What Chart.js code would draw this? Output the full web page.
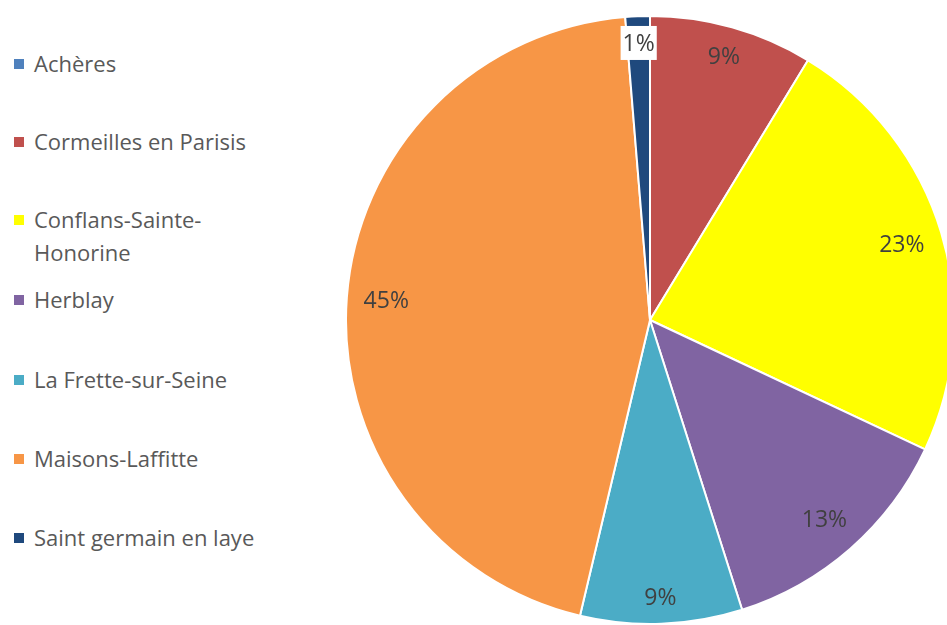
<!DOCTYPE html>
<html>
<head>
	<title>Pie</title>
	<script src="https://cdn.jsdelivr.net/npm/chart.js@4"></script>
<style>
	body { margin: 0; width: 947px; height: 625px; overflow: hidden; background: #fff; position: relative; font-family: "Open Sans", sans-serif; }
	#pie { position: absolute; left: 345px; top: 15px; }
	.item { position: absolute; left: 14px; display: flex; align-items: flex-start; color: #595959; font-size: 22px; line-height: 33px; }
	.box { width: 10px; height: 10px; margin-top: 12px; margin-right: 10px; flex: none; }
	.txt { width: 236px; }
</style>
</head>
<body>
<div id="legend"></div>
<canvas id="pie" width="610" height="610"></canvas>

<script>
var categories = ['Achères', 'Cormeilles en Parisis', 'Conflans-Sainte-Honorine', 'Herblay', 'La Frette-sur-Seine', 'Maisons-Laffitte', 'Saint germain en laye'];
var values = [0, 8.7, 23.3, 13.1, 8.6, 45.0, 1.3];
var colors = ['#4F81BD', '#C0504D', '#FFFF00', '#8064A2', '#4BACC6', '#F79646', '#1F497D'];

// legend rows (top of first line)
var legendTops = [47, 125, 203, 283, 363, 442, 521];

var legend = document.getElementById('legend');
categories.forEach(function (name, i) {
	var row = document.createElement('div');
	row.className = 'item';
	row.style.top = legendTops[i] + 'px';
	row.innerHTML = '<span class="box" style="background:' + colors[i] + '"></span><span class="txt"></span>';
	row.querySelector('.txt').textContent = name;
	legend.appendChild(row);
});

var total = values.reduce(function (a, b) { return a + b; }, 0);

var sliceLabels = {
	id: 'sliceLabels',
	afterDatasetsDraw: function (chart) {
		var ctx = chart.ctx;
		var meta = chart.getDatasetMeta(0);
		ctx.save();
		ctx.font = '23px "Open Sans"';
		ctx.textAlign = 'center';
		ctx.textBaseline = 'middle';
		meta.data.forEach(function (arc, i) {
			var v = values[i];
			if (!v) return;
			var p = arc.getProps(['x', 'y', 'startAngle', 'endAngle', 'outerRadius'], true);
			var mid = (p.startAngle + p.endAngle) / 2;
			var text = Math.round(v / total * 100) + '%';
			var hw = ctx.measureText(text).width / 2 + 2;
			var hh = 12;
			var c = Math.cos(mid), s = Math.sin(mid);
			var r = p.outerRadius - 14 - (Math.abs(c) * hw + Math.abs(s) * hh);
			var x = p.x + c * r;
			var y = p.y + s * r;
			if (v / total < 0.03) {
				ctx.fillStyle = '#fff';
				ctx.fillRect(x - hw, y - 17, 2 * hw, 34);
			}
			ctx.fillStyle = '#404040';
			ctx.fillText(text, x, y + 1);
		});
		ctx.restore();
	}
};

new Chart(document.getElementById('pie'), {
	type: 'pie',
	data: {
		labels: categories,
		datasets: [{
			data: values,
			backgroundColor: colors,
			borderColor: '#ffffff',
			borderWidth: 2
		}]
	},
	options: {
		responsive: false,
		animation: false,
		layout: { padding: 0 },
		plugins: {
			legend: { display: false },
			tooltip: { enabled: false }
		}
	},
	plugins: [sliceLabels]
});
</script>
</body>
</html>
